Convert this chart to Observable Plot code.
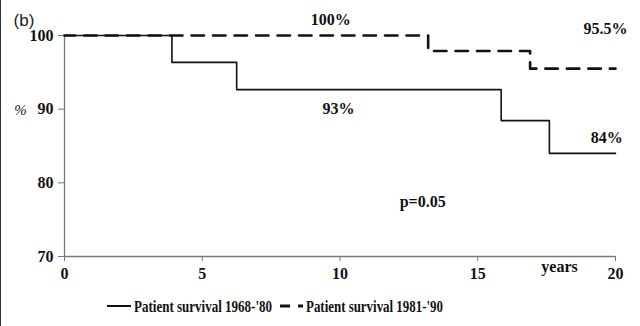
<!DOCTYPE html>
<html>
<head>
<meta charset="utf-8">
<script src="https://cdn.jsdelivr.net/npm/d3@7"></script>
<script src="https://cdn.jsdelivr.net/npm/@observablehq/plot@0.6"></script>
<style>
  html, body { margin: 0; padding: 0; background: #fff; }
  #wrap { position: relative; width: 640px; height: 326px; overflow: hidden; background: #fff; }
  #edge { position: absolute; left: 0; top: 0; width: 1px; height: 326px; background: #333; }
  #legend { display: block; }
</style>
</head>
<body>
<div id="wrap"><div id="chart"></div><div id="edge"></div></div>
<script>
// Patient survival 1968-'80 (solid)
const years1968 = [0, 3.9, 6.25, 15.85, 17.6, 20];
const surv1968 = [100, 96.35, 92.65, 88.45, 84, 84];
// Patient survival 1981-'90 (dashed)
const years1981 = [0, 13.2, 16.9, 20];
const surv1981 = [100, 97.9, 95.5, 95.5];

const xTicks = [0, 5, 10, 15, 20];
const yTicks = [70, 80, 90, 100];

const seriesNames = ["Patient survival 1968-'80", "Patient survival 1981-'90"];

const annoLabels = ["100%", "95.5%", "93%", "84%", "p=0.05", "years"];
const annoX = [9.66, 19.64, 9.95, 19.68, 13.0, 17.97];
const annoY = [101.49, 100.27, 89.28, 85.35, 76.66, 67.84];

const line1 = years1968.map((x, i) => ({x, y: surv1968[i]}));
const line2 = years1981.map((x, i) => ({x, y: surv1981[i]}));
const annos = annoLabels.map((t, i) => ({t, x: annoX[i], y: annoY[i]}));

const serif = "'Liberation Serif', 'Times New Roman', serif";

const plot = Plot.plot({
  width: 640,
  height: 290,
  marginLeft: 64,
  marginRight: 25,
  marginTop: 35,
  marginBottom: 34,
  x: {domain: [0, 20]},
  y: {domain: [70, 100]},
  style: {fontFamily: serif, fontSize: "16px", fontWeight: "bold", background: "#fff", overflow: "visible", color: "#111"},
  marks: [
    Plot.ruleX([0], {y1: 70, y2: 100, stroke: "#777", strokeWidth: 1.3}),
    Plot.ruleY([70], {x1: 0, x2: 20, stroke: "#777", strokeWidth: 1.3}),
    Plot.axisX({ticks: xTicks, tickSize: 5, tickPadding: 6, stroke: "#777", color: "#111", label: null, fontSize: 16}),
    Plot.axisY({ticks: yTicks, tickSize: 6, tickPadding: 5, stroke: "#777", color: "#111", label: null, fontSize: 16}),
    Plot.line(line2, {x: "x", y: "y", curve: "step-after", stroke: "#111", strokeWidth: 2.6, strokeDasharray: "12.5,9", strokeDashoffset: 2}),
    Plot.line(line1, {x: "x", y: "y", curve: "step-after", stroke: "#111", strokeWidth: 1.6}),
    Plot.text(annos, {x: "x", y: "y", text: "t", textAnchor: "middle", lineAnchor: "bottom", fill: "#111", fontSize: 16, fontWeight: "bold", fontFamily: serif}),
    Plot.text(["%"], {x: -1.6, y: 89.9, textAnchor: "middle", lineAnchor: "middle", fill: "#222", fontSize: 15, fontWeight: "normal", fontStyle: "italic", fontFamily: serif}),
    Plot.text(["(b)"], {x: -1.85, y: 101.25, textAnchor: "start", lineAnchor: "bottom", fill: "#222", fontSize: 17, fontWeight: "normal", fontFamily: "'Liberation Sans', Arial, sans-serif"})
  ]
});
document.getElementById("chart").appendChild(plot);

// Legend below the plot
const ns = "http://www.w3.org/2000/svg";
const leg = document.createElementNS(ns, "svg");
leg.setAttribute("width", 640);
leg.setAttribute("height", 36);
leg.setAttribute("id", "legend");
function el(tag, attrs, txt) {
  const e = document.createElementNS(ns, tag);
  for (const k in attrs) e.setAttribute(k, attrs[k]);
  if (txt) e.textContent = txt;
  leg.appendChild(e);
  return e;
}
el("line", {x1: 107, x2: 131, y1: 16, y2: 16, stroke: "#111", "stroke-width": 2});
el("text", {x: 134, y: 21.5, "font-family": serif, "font-size": 17.5, "font-weight": "bold", fill: "#111", textLength: 138, lengthAdjust: "spacingAndGlyphs"}, seriesNames[0]);
el("line", {x1: 280, x2: 290, y1: 16, y2: 16, stroke: "#111", "stroke-width": 3});
el("line", {x1: 298, x2: 303, y1: 16, y2: 16, stroke: "#111", "stroke-width": 3});
el("text", {x: 306, y: 21.5, "font-family": serif, "font-size": 17.5, "font-weight": "bold", fill: "#111", textLength: 137, lengthAdjust: "spacingAndGlyphs"}, seriesNames[1]);
document.getElementById("chart").appendChild(leg);
</script>
</body>
</html>
